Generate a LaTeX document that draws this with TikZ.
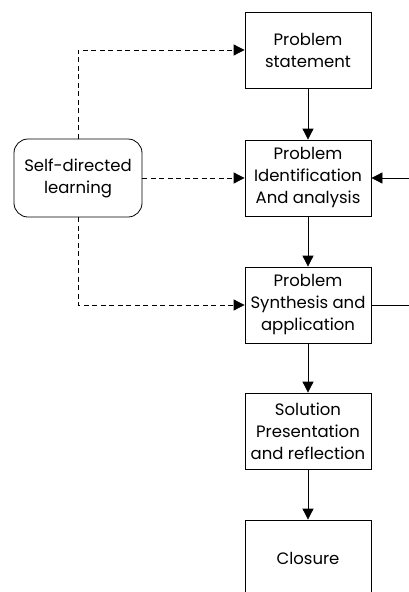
\documentclass[tikz,border=0pt]{standalone}
\usepackage{fontspec}
\setmainfont{Poppins}
\usepackage{tikz}
\usetikzlibrary{positioning}
\usetikzlibrary{arrows.meta}

\begin{document}
\begin{tikzpicture}[node distance=127pt,on grid,
   stage/.style={draw,line width=0.8pt,minimum width=126pt,minimum height=76pt,align=center,
      font=\fontsize{16.5pt}{22pt}\selectfont},
   learn/.style={stage,rounded corners=14pt,minimum width=128pt,minimum height=78pt},
   >={Triangle[length=11pt,width=11pt]},line width=0.8pt] 
   \useasboundingbox (0,0) rectangle (409pt,-592pt);
   \node[stage] (stmt) at (308pt,-50pt) {Problem\\statement}; 
   \node[stage] (ident) [below=128pt of stmt] {Problem\\Identification\\And analysis}; 
   \node[stage] (synth) [below=of ident] {Problem\\Synthesis and\\application};
   \node[stage] (sol) [below=126pt of synth] {Solution\\Presentation\\and reflection};
   \node[stage] (clos) [below=of sol] {Closure};
   \node[learn] (sdl) [left=230pt of ident] {Self-directed\\learning};
   \coordinate[right=101pt of ident] (rin);
   \coordinate[right=101pt of synth] (rout);
    \path[->] 
    (stmt) edge (ident)
    (ident) edge (synth)
    (synth) edge (sol)
    (sol) edge (clos)
    (rin) edge (ident)
    ;
    \draw (synth) -- (rout);
    \draw[dash pattern=on 5pt off 3.5pt,->] (sdl.north) |- (stmt);
    \draw[dash pattern=on 5pt off 3.5pt,->] (sdl) -- (ident);
    \draw[dash pattern=on 5pt off 3.5pt,->] (sdl.south) |- (synth);
\end{tikzpicture}
\end{document}
